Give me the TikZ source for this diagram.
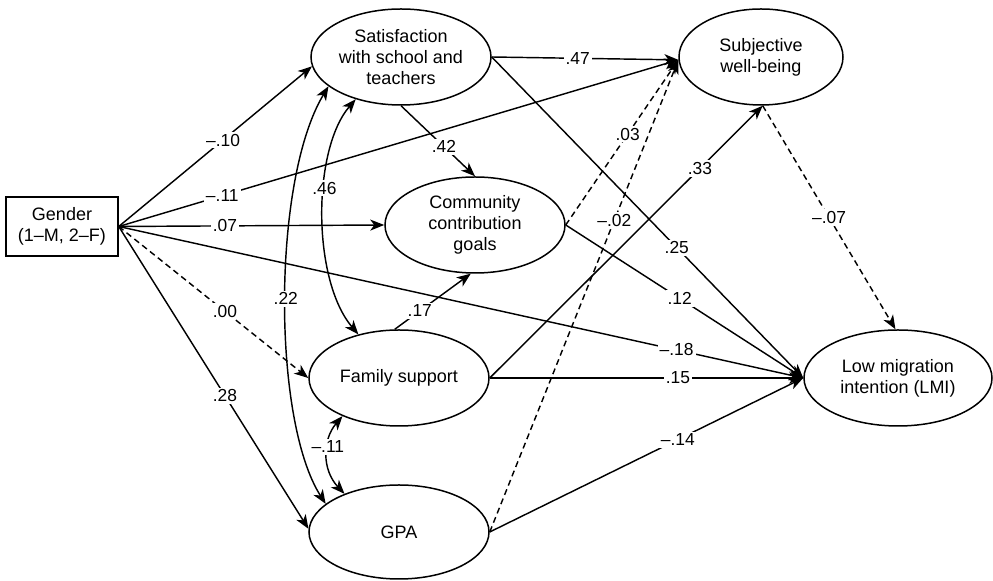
\documentclass[tikz,border=0pt]{standalone}
\usepackage{fontspec}
\setmainfont{Liberation Sans}
\usetikzlibrary{shapes.geometric,arrows.meta}
\begin{document}
\begin{tikzpicture}[x=0.5pt,y=-0.5pt,
  lat/.style={ellipse,draw,line width=0.75pt,minimum width=90pt,minimum height=48pt,inner sep=0pt,align=center,font=\fontsize{9}{10.5}\selectfont},
  obs/.style={rectangle,draw,line width=0.75pt,minimum width=56pt,minimum height=29.5pt,inner sep=0pt,align=center,font=\fontsize{9}{10.5}\selectfont},
  pth/.style={line width=0.72pt,-{Stealth[length=7pt,width=5.5pt,inset=2pt]}},
  dsh/.style={pth,dash pattern=on 3pt off 2pt},
  cov/.style={line width=0.72pt,{Stealth[length=7pt,width=5.5pt,inset=2pt]}-{Stealth[length=7pt,width=5.5pt,inset=2pt]}},
  lbl/.style={fill=white,inner sep=1pt,font=\fontsize{8.7}{10}\selectfont}]
\useasboundingbox (0,0) rectangle (993,581);
\node[obs] (gen) at (62,226.5) {Gender\\(1--M, 2--F)};
\node[lat] (sat) at (401,57) {Satisfaction\\with school and\\teachers};
\node[lat,minimum width=82pt] (swb) at (761,57) {Subjective\\well-being};
\node[lat] (ccg) at (475,225) {Community\\contribution\\goals};
\node[lat] (fam) at (399,378) {Family support};
\node[lat,minimum height=47pt] (gpa) at (399,532) {GPA};
\node[lat,minimum width=94pt] (lmi) at (898,378) {Low migration\\intention (LMI)};

\draw[pth] (gen.east) -- node[lbl,pos=0.54] (l10) {--.10} (sat.186);
\draw[pth] (gen.east) -- node[lbl,pos=0.185] (l11) {--.11} (swb.182);
\draw[pth] (gen.east) -- node[lbl,pos=0.40] (l07) {.07} (ccg.west);
\draw[pth] (gen.east) -- node[lbl,pos=0.815] (l18) {--.18} (lmi.west);
\draw[dsh] (gen.east) -- node[lbl,pos=0.56] (l00) {.00} (fam.west);
\draw[pth] (gen.east) -- node[lbl,pos=0.56] (l28) {.28} (gpa.178);
\draw[pth] (sat.east) -- node[lbl,pos=0.46] (l47) {.47} (swb.182);
\draw[pth] (sat.south) -- node[lbl,pos=0.58] (l42) {.42} (ccg.north);
\draw[pth] (sat.east) -- node[lbl,pos=0.594] (l25) {.25} (lmi.west);
\draw[pth] (fam.95) -- node[lbl,pos=0.33] (l17) {.17} (ccg.265);
\draw[dsh] (ccg.east) -- node[lbl,pos=0.55] (l03) {.03} (swb.182);
\draw[dsh] (gpa.east) -- node[lbl,pos=0.66] (l02) {--.02} (swb.182);
\draw[pth] (fam.east) -- node[lbl,pos=0.77] (l33) {.33} (swb.272);
\draw[pth] (ccg.east) -- node[lbl,pos=0.48] (l12) {.12} (lmi.west);
\draw[pth] (fam.east) -- node[lbl,pos=0.6] (l15) {.15} (lmi.west);
\draw[pth] (gpa.east) -- node[lbl,pos=0.6] (l14) {--.14} (lmi.west);
\draw[dsh] (swb.272) -- node[lbl,pos=0.5] (l07b) {--.07} (lmi.93);
\draw[cov] (sat.202) .. controls (272,180) and (272,420) .. node[lbl,pos=0.5] (l22) {.22} (gpa.159);
\draw[cov] (sat.223) .. controls (312,150) and (312,280) .. node[lbl,pos=0.4] (l46) {.46} (fam.133);
\draw[cov] (fam.214) .. controls (322,440) and (322,470) .. node[lbl,pos=0.4] (l11b) {--.11} (gpa.145);
\end{tikzpicture}
\end{document}
